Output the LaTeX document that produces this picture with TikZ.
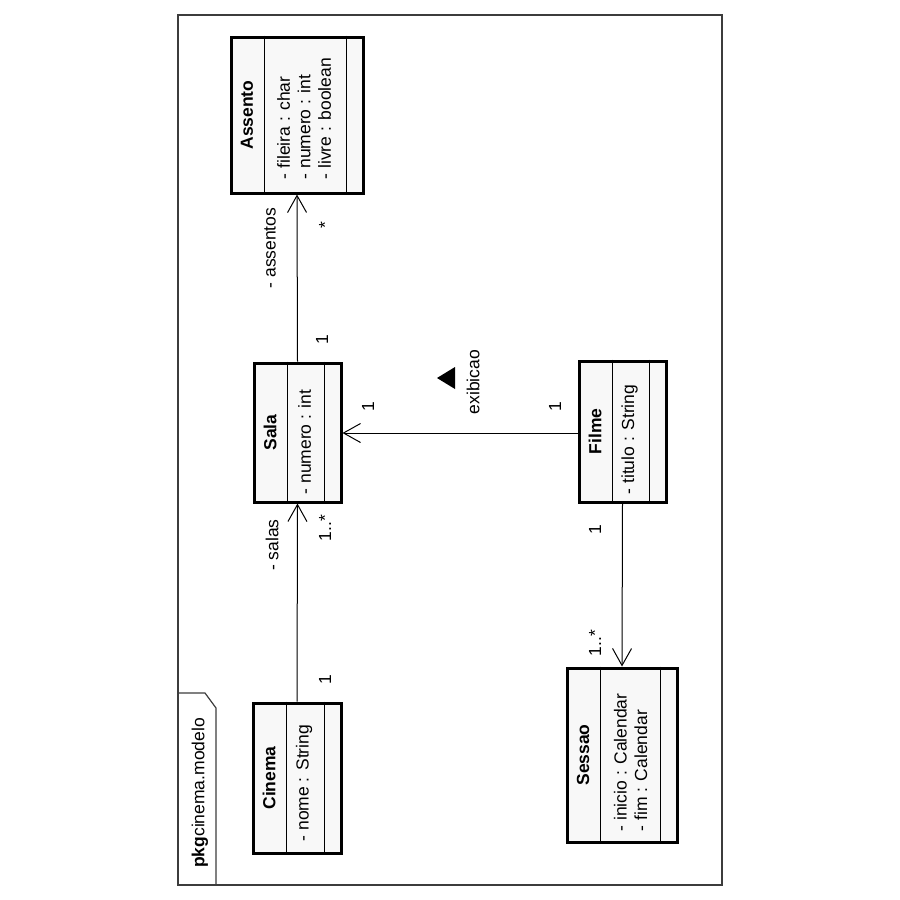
\documentclass[tikz,border=0pt]{standalone}
\usepackage{fontspec}
\setmainfont{Liberation Sans}
\usetikzlibrary{arrows.meta}
\definecolor{boxfill}{RGB}{248,248,248}
\definecolor{framegray}{RGB}{60,60,60}
\newcommand{\umlfont}{\fontsize{17.5}{20.5}\selectfont}
\tikzset{
	umlclass/.style={draw, line width=3pt, fill=boxfill, inner sep=0pt},
	divider/.style={line width=1pt},
	title/.style={rotate=90, inner sep=0pt, font=\umlfont\bfseries},
	attr/.style={rotate=90, inner sep=0pt, anchor=west, align=left},
	lbl/.style={rotate=90, inner sep=0pt},
	assoc/.style={line width=1pt, -{Straight Barb[length=17pt,width=19pt,line width=1pt]}},
	frame/.style={draw=framegray, line width=1.2pt}
}
\begin{document}
\begin{tikzpicture}[x=1pt, y=-1pt, font=\umlfont]
	\useasboundingbox (0,0) rectangle (900,900);
	% package frame
	\draw[frame] (178,15) rectangle (722,885);
	\draw[frame] (178,693) -- (205,693) -- (216,708) -- (216,885);
	\node[lbl, anchor=west] (pkg) at (200,868) {\textbf{pkg}cinema.modelo};
	% classes
	\node[umlclass, minimum width=132pt, minimum height=156pt] (assento) at (297,115) {};
	\node[umlclass, minimum width=88pt, minimum height=150pt] (cinema) at (297,778) {};
	\node[umlclass, minimum width=87pt, minimum height=139pt] (sala) at (297.5,432.5) {};
	\node[umlclass, minimum width=87pt, minimum height=141pt] (filme) at (622.5,431.5) {};
	\node[umlclass, minimum width=110pt, minimum height=174pt] (sessao) at (622,755) {};
	\foreach \c in {assento,cinema,sala,filme,sessao} {
		\draw[divider] ([xshift=35pt]\c.north west) -- ([xshift=35pt]\c.south west);
		\draw[divider] ([xshift=-18pt]\c.north east) -- ([xshift=-18pt]\c.south east);
	}
	\node[title] (assentoT) at ([xshift=17.5pt]assento.west) {Assento};
	\node[title] (cinemaT) at ([xshift=17.5pt]cinema.west) {Cinema};
	\node[title] (salaT) at ([xshift=17.5pt]sala.west) {Sala};
	\node[title] (filmeT) at ([xshift=17.5pt]filme.west) {Filme};
	\node[title] (sessaoT) at ([xshift=17.5pt]sessao.west) {Sessao};
	\node[attr] (assentoA) at ([xshift=74.5pt,yshift=15pt]assento.south west) {- fileira : char\\- numero : int\\- livre : boolean};
	\node[attr] (cinemaA) at ([xshift=52.5pt,yshift=13pt]cinema.south west) {- nome : String};
	\node[attr] (salaA) at ([xshift=52pt,yshift=9pt]sala.south west) {- numero : int};
	\node[attr] (filmeA) at ([xshift=52pt,yshift=9pt]filme.south west) {- titulo : String};
	\node[attr] (sessaoA) at ([xshift=65pt,yshift=12pt]sessao.south west) {- inicio : Calendar\\- fim : Calendar};
	% associations
	\draw[assoc] (cinema.north) -- (sala.south);
	\draw[assoc] (sala.north) -- (assento.south);
	\draw[assoc] ([yshift=-1.5pt]filme.west) -- ([yshift=-1.5pt]filme.west -| sala.east);
	\draw[assoc] (filme.south) -- (sessao.north);
	\node[lbl] (assentosR) at (270,248) {- assentos};
	\node[lbl] (assentosM) at (325,225) {*};
	\node[lbl] (salaM1) at (322,340) {1};
	\node[lbl] (salasR) at (272,545) {- salas};
	\node[lbl] (salasM) at (325,528) {1..*};
	\node[lbl] (cinemaM) at (325,680) {1};
	\node[lbl] (exibSala) at (368,407) {1};
	\node[lbl] (exibFilme) at (555,407) {1};
	\node[lbl] (exibicao) at (473,382) {exibicao};
	\fill (437,378) -- (455,367) -- (455,389) -- cycle;
	\node[lbl] (filmeM) at (595,530) {1};
	\node[lbl] (sessaoM) at (595,643) {1..*};
\end{tikzpicture}
\end{document}
